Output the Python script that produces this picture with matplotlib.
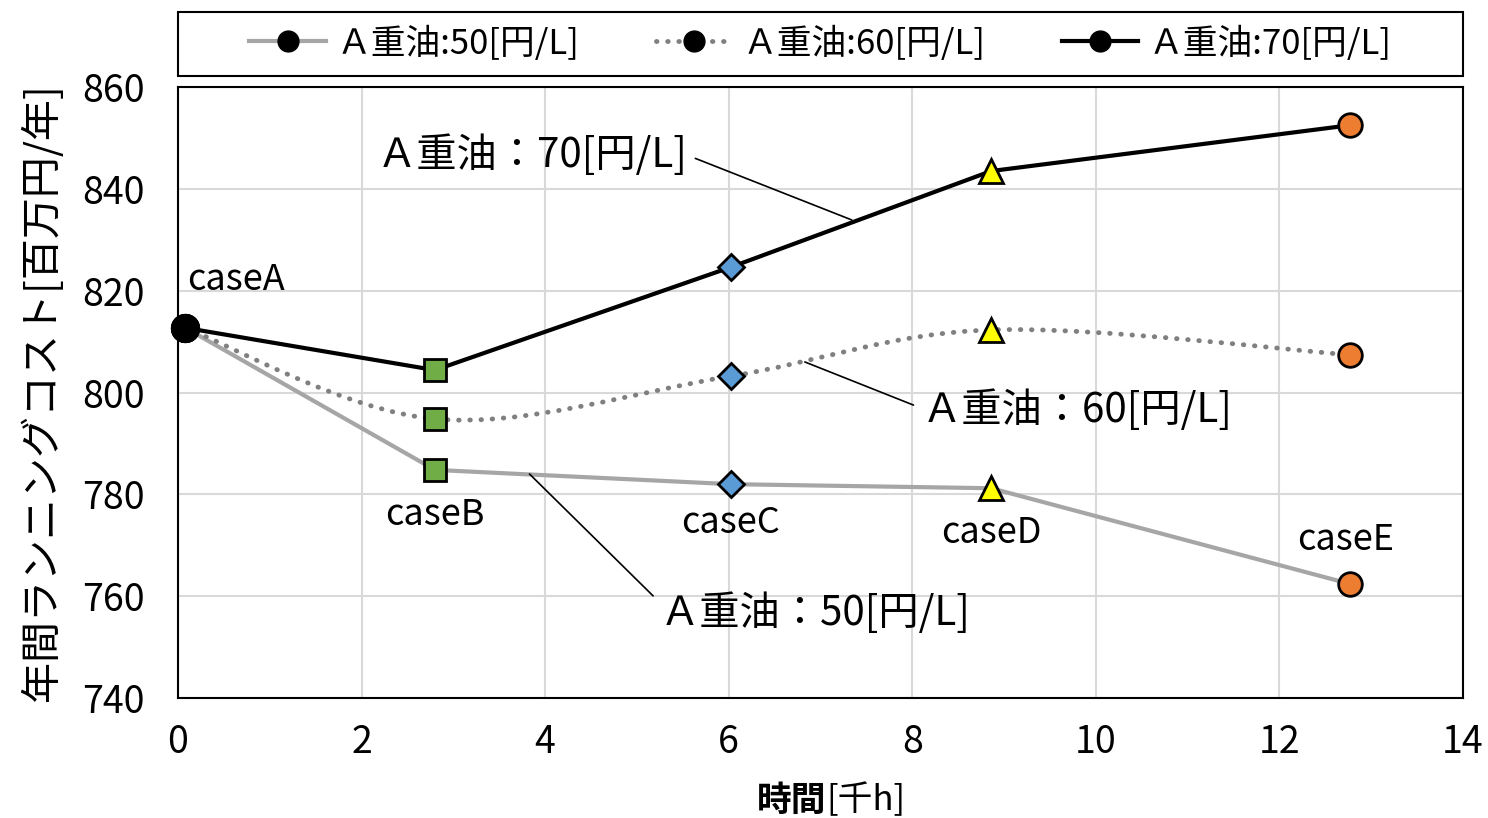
import matplotlib.pyplot as plt
from matplotlib.lines import Line2D
from matplotlib.path import Path
from matplotlib.patches import PathPatch, Rectangle

plt.rcParams['font.family'] = ['Noto Sans CJK JP', 'DejaVu Sans']

# data
cases = ['caseA', 'caseB', 'caseC', 'caseD', 'caseE']
hours = [0.08, 2.80, 6.02, 8.86, 12.77]          # 時間[千h]
cost_50 = [812.7, 784.8, 782.0, 781.2, 762.4]    # A重油 50円/L
cost_60 = [812.7, 794.8, 803.2, 812.3, 807.4]    # A重油 60円/L
cost_70 = [812.7, 804.4, 824.6, 843.5, 852.5]    # A重油 70円/L
series_names = ['Ａ重油:50[円/L]', 'Ａ重油:60[円/L]', 'Ａ重油:70[円/L]']

# marker style per case
markers = ['o', 's', 'D', '^', 'o']
face = ['black', '#70AD47', '#5B9BD5', '#FFFF00', '#ED7D31']
msize = [19, 16, 13, 17, 17]

fig = plt.figure(figsize=(14.88, 8.18), dpi=100)
ax = fig.add_axes([0.1196, 0.1467, 0.8636, 0.7469])

ax.plot(hours, cost_50, color='#A6A6A6', lw=3, zorder=3)
ax.plot(hours, cost_70, color='black', lw=3, zorder=3)


def smooth_path(xs, ys, t=1/6):
    # bezier through the points, like Excel's smoothed line
    verts = [(xs[0], ys[0])]
    codes = [Path.MOVETO]
    n = len(xs)
    for i in range(n - 1):
        x0, y0 = xs[max(i - 1, 0)], ys[max(i - 1, 0)]
        x1, y1 = xs[i], ys[i]
        x2, y2 = xs[i + 1], ys[i + 1]
        x3, y3 = xs[min(i + 2, n - 1)], ys[min(i + 2, n - 1)]
        verts += [(x1 + (x2 - x0) * t, y1 + (y2 - y0) * t),
                  (x2 - (x3 - x1) * t, y2 - (y3 - y1) * t),
                  (x2, y2)]
        codes += [Path.CURVE4] * 3
    return Path(verts, codes)


ax.add_patch(PathPatch(smooth_path(hours, cost_60), fill=False, edgecolor='#808080',
                       lw=3.5, linestyle=(0, (0.1, 2.2)), capstyle='round', zorder=3))

for ys in (cost_50, cost_60, cost_70):
    for i in range(len(hours)):
        ax.plot(hours[i], ys[i], marker=markers[i], ms=msize[i], mfc=face[i],
                mec='black', mew=2, ls='none', zorder=5, clip_on=False)

ax.set_xlim(0, 14)
ax.set_ylim(740, 860)
ax.set_xticks(range(0, 15, 2))
ax.set_yticks(range(740, 861, 20))
ax.grid(True, color='#D9D9D9', lw=1.5)
ax.set_axisbelow(True)
ax.tick_params(length=0, labelsize=27)
ax.tick_params(axis='x', pad=18)
ax.tick_params(axis='y', pad=24)
for s in ax.spines.values():
    s.set_linewidth(1.5)

ax.set_ylabel('年間ランニングコスト[百万円/年]', fontsize=29.5, labelpad=14)
fig.text(0.5555, 0.0, '時間', fontsize=25, fontweight='bold', ha='right', va='bottom')
fig.text(0.5555, 0.0, '[千h]', fontsize=25, ha='left', va='bottom')

# case labels
ax.text(0.1, 822.1, cases[0], fontsize=26, ha='left', va='center')
ax.text(hours[1], 775.9, cases[1], fontsize=26, ha='center', va='center')
ax.text(hours[2], 774.3, cases[2], fontsize=26, ha='center', va='center')
ax.text(hours[3], 772.4, cases[3], fontsize=26, ha='center', va='center')
ax.text(hours[4] - 0.05, 771.0, cases[4], fontsize=26, ha='center', va='center')

# callouts
lbl = ['Ａ重油：50[円/L]', 'Ａ重油：60[円/L]', 'Ａ重油：70[円/L]']


def arrow(rel):
    return dict(arrowstyle='-', color='black', lw=1.2, shrinkA=4, shrinkB=0, relpos=rel)


ax.annotate(lbl[2], xy=(7.34, 833.9), xytext=(5.55, 846.6), fontsize=29,
            ha='right', va='center', arrowprops=arrow((1, 0.5)))
ax.annotate(lbl[1], xy=(6.83, 806.0), xytext=(8.1, 796.5), fontsize=29,
            ha='left', va='center', arrowprops=arrow((0, 0.55)))
ax.annotate(lbl[0], xy=(3.83, 784.0), xytext=(5.25, 756.7), fontsize=29,
            ha='left', va='center', arrowprops=arrow((0, 0.75)))

# legend in its own box above the plot
fig.patches.append(Rectangle((0.1196, 0.9071), 0.8636, 0.0782, transform=fig.transFigure,
                             fill=False, edgecolor='black', lw=1.5))
handles = [Line2D([], [], color='#A6A6A6', lw=3, marker='o', ms=15, mfc='black', mec='black'),
           Line2D([], [], color='#808080', lw=3.5, ls=(0, (0.1, 2.2)), dash_capstyle='round',
                  marker='o', ms=15, mfc='black', mec='black'),
           Line2D([], [], color='black', lw=3, marker='o', ms=15, mfc='black', mec='black')]
fig.legend(handles, series_names, loc='center', ncol=3, fontsize=25,
           bbox_to_anchor=(0.5514, 0.9462), frameon=False, borderaxespad=0,
           handlelength=2.2, handletextpad=0.3, columnspacing=2.2)

fig.savefig('out.png', dpi=100)
